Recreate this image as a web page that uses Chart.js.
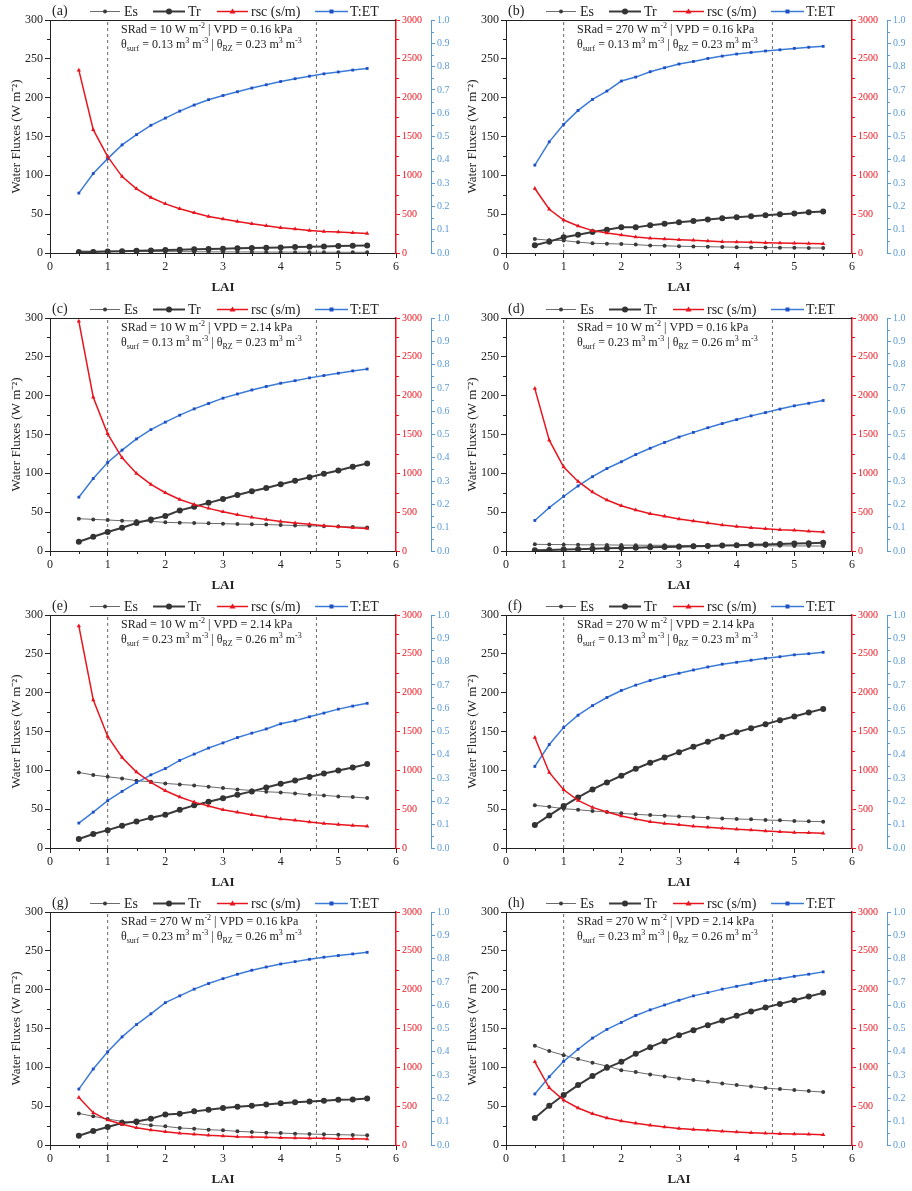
<!DOCTYPE html>
<html>
<head>
<meta charset="utf-8">
<script src="https://cdn.jsdelivr.net/npm/chart.js@4.4.0/dist/chart.umd.min.js"></script>
<style>
    body { margin: 0; background: #fff; width: 912px; height: 1191px; position: relative; overflow: hidden; }
    .panel { position: absolute; width: 456px; height: 297px; }
</style>
</head>
<body>
<div class="panel" style="left:0;top:0"><canvas id="c0" width="456" height="297"></canvas></div>
<div class="panel" style="left:456px;top:0"><canvas id="c1" width="456" height="297"></canvas></div>
<div class="panel" style="left:0;top:298px"><canvas id="c2" width="456" height="297"></canvas></div>
<div class="panel" style="left:456px;top:298px"><canvas id="c3" width="456" height="297"></canvas></div>
<div class="panel" style="left:0;top:595px"><canvas id="c4" width="456" height="297"></canvas></div>
<div class="panel" style="left:456px;top:595px"><canvas id="c5" width="456" height="297"></canvas></div>
<div class="panel" style="left:0;top:892px"><canvas id="c6" width="456" height="297"></canvas></div>
<div class="panel" style="left:456px;top:892px"><canvas id="c7" width="456" height="297"></canvas></div>

<script>
// LAI values shared by every panel
const lai = [0.5, 0.75, 1, 1.25, 1.5, 1.75, 2, 2.25, 2.5, 2.75, 3, 3.25, 3.5, 3.75, 4, 4.25, 4.5, 4.75, 5, 5.25, 5.5];
const dashedLai = [1, 4.62];

// panel conditions
const panelLabels = ['(a)', '(b)', '(c)', '(d)', '(e)', '(f)', '(g)', '(h)'];
const sradVals = ['10', '270', '10', '10', '10', '270', '270', '270'];
const vpdVals = ['0.16', '0.16', '2.14', '0.16', '2.14', '2.14', '0.16', '2.14'];
const thetaSurf = ['0.13', '0.13', '0.13', '0.23', '0.23', '0.13', '0.23', '0.23'];
const thetaRZ = ['0.23', '0.23', '0.23', '0.26', '0.26', '0.23', '0.26', '0.26'];

// (a)
const esA = [2.5, 2.4, 2.3, 2.1, 2.0, 1.9, 1.8, 1.7, 1.6, 1.5, 1.4, 1.4, 1.3, 1.2, 1.2, 1.1, 1.1, 1.0, 1.0, 0.9, 0.9];
const trA = [0.9, 1.3, 1.8, 2.3, 2.8, 3.3, 3.8, 4.2, 4.7, 5.1, 5.6, 6.0, 6.4, 6.8, 7.2, 7.7, 8.1, 8.5, 8.9, 9.3, 9.8];
const rscA = [2354, 1588, 1241, 984, 826, 715, 633, 569, 518, 471, 437, 407, 377, 351, 325, 308, 291, 278, 270, 261, 252];
const tetA = [0.257, 0.341, 0.405, 0.464, 0.508, 0.548, 0.579, 0.609, 0.635, 0.658, 0.676, 0.692, 0.708, 0.722, 0.736, 0.748, 0.759, 0.769, 0.777, 0.785, 0.792];
// (b)
const esB = [18, 16.5, 16, 14, 12.5, 12, 11.6, 10.8, 9.6, 9.3, 8.7, 8.4, 8.1, 7.8, 7.4, 7.2, 7.0, 6.8, 6.7, 6.5, 6.4];
const trB = [9.9, 14.6, 20.2, 23.6, 27, 30, 33, 33, 35.7, 37.8, 39.5, 41.3, 43, 44.7, 46, 47.3, 48.6, 49.9, 51, 52.4, 53.3];
const rscB = [830, 563, 425, 348, 288, 258, 232, 206, 189, 180, 172, 163, 155, 146, 142, 138, 133, 129, 125, 123, 120];
const tetB = [0.377, 0.477, 0.552, 0.612, 0.659, 0.695, 0.738, 0.755, 0.778, 0.795, 0.811, 0.822, 0.835, 0.845, 0.854, 0.861, 0.867, 0.872, 0.878, 0.883, 0.887];
// (c)
const esC = [41.6, 40.7, 39.9, 39.0, 38.6, 38.1, 36.9, 36.4, 36.0, 35.6, 35.2, 34.7, 34.4, 34.1, 33.4, 32.8, 32.4, 31.9, 31.5, 30.9, 30.4];
const trC = [12, 18.4, 24.4, 30, 36, 40.7, 45, 52.3, 57, 62, 66.9, 72, 77, 81, 86, 90.4, 95, 99.4, 103.7, 108.4, 112.7];
const rscC = [2957, 1980, 1509, 1200, 999, 857, 750, 664, 600, 549, 506, 467, 433, 407, 381, 360, 343, 326, 313, 300, 291];
const tetC = [0.231, 0.311, 0.380, 0.433, 0.481, 0.521, 0.553, 0.583, 0.610, 0.633, 0.656, 0.674, 0.691, 0.706, 0.720, 0.731, 0.743, 0.753, 0.763, 0.773, 0.781];
// (d)
const esD = [8.6, 8.4, 8.2, 8.0, 7.9, 7.8, 7.6, 7.5, 7.4, 7.3, 7.2, 7.1, 7.0, 6.9, 6.8, 6.8, 6.7, 6.6, 6.5, 6.5, 6.4];
const trD = [0.9, 1.4, 1.9, 2.4, 2.9, 3.4, 3.8, 4.3, 4.7, 5.2, 5.6, 6.0, 6.5, 7.0, 7.5, 8.0, 8.5, 9.0, 9.5, 10.1, 10.7];
const rscD = [2091, 1427, 1080, 896, 759, 656, 583, 527, 480, 446, 411, 386, 360, 334, 317, 300, 287, 274, 266, 253, 244];
const tetD = [0.131, 0.186, 0.234, 0.279, 0.319, 0.354, 0.383, 0.414, 0.441, 0.466, 0.489, 0.509, 0.529, 0.547, 0.564, 0.580, 0.594, 0.609, 0.623, 0.634, 0.646];
// (e)
const esE = [97.3, 93.9, 91.7, 89.6, 86.6, 85.3, 83.1, 81.9, 80.6, 78.9, 77.1, 75.4, 74.1, 72.4, 71.6, 70.3, 68.6, 67.7, 66.4, 65.6, 64.3];
const trE = [11.6, 18, 23, 28.7, 34, 39, 42.9, 49.3, 54.9, 59.6, 64, 68.6, 72.9, 78, 82.7, 87, 91.3, 96, 99.9, 103.7, 108];
const rscE = [2859, 1907, 1436, 1166, 977, 844, 737, 656, 591, 540, 493, 459, 429, 399, 373, 356, 334, 317, 304, 291, 279];
const tetE = [0.107, 0.154, 0.203, 0.243, 0.281, 0.314, 0.341, 0.376, 0.403, 0.429, 0.451, 0.474, 0.493, 0.511, 0.533, 0.546, 0.563, 0.579, 0.596, 0.609, 0.621];
// (f)
const esF = [54.9, 53.1, 50.6, 49.3, 47.6, 46.3, 44.6, 43.3, 42.4, 41.6, 40.7, 39.9, 39.0, 38.1, 37.3, 36.9, 36.0, 35.6, 34.7, 34.3, 33.9];
const trF = [29.6, 42, 54, 65.1, 75.4, 84.4, 93, 102, 109.7, 116.6, 123.4, 130.3, 136.7, 143.1, 149.1, 154.3, 159.4, 164.6, 169.3, 174.4, 179.1];
const rscF = [1423, 973, 750, 613, 523, 463, 411, 373, 339, 317, 300, 279, 266, 253, 240, 231, 219, 210, 201, 197, 189];
const tetF = [0.35, 0.444, 0.517, 0.570, 0.611, 0.646, 0.676, 0.699, 0.719, 0.736, 0.75, 0.764, 0.777, 0.789, 0.797, 0.806, 0.814, 0.821, 0.829, 0.834, 0.84];
// (g)
const esG = [40.7, 36.9, 33.4, 30.4, 27.9, 25.3, 24, 21.9, 21, 19.7, 18.9, 17.6, 16.7, 15.9, 15.4, 14.6, 14.1, 13.7, 13.3, 12.9, 12.4];
const trG = [12, 18, 23.1, 28.3, 30.4, 33.9, 39.4, 40.3, 43.3, 45.4, 47.6, 49.3, 50.6, 52.3, 53.6, 54.9, 56.1, 57, 58.3, 58.7, 60];
const rscG = [613, 416, 321, 266, 223, 193, 171, 150, 137, 124, 116, 107, 103, 99, 94, 90, 86, 86, 81, 81, 77];
const tetG = [0.24, 0.326, 0.40, 0.464, 0.517, 0.563, 0.611, 0.64, 0.669, 0.693, 0.714, 0.733, 0.75, 0.764, 0.777, 0.787, 0.797, 0.806, 0.813, 0.82, 0.827];
// (h)
const esH = [127.7, 120.9, 115.7, 110.6, 105.9, 101.6, 96.4, 93.9, 90.9, 88.3, 85.7, 83.6, 81.4, 79.3, 77.1, 75.4, 73.3, 72, 70.7, 69.4, 68.1];
const trH = [34.7, 50.6, 64.3, 77.1, 88.7, 99.4, 107.1, 117.4, 126, 133.7, 141.4, 147.9, 154.3, 160.3, 166.3, 171.9, 177, 181.7, 186.4, 191.1, 195.9];
const rscH = [1071, 737, 579, 476, 403, 347, 309, 279, 253, 231, 214, 201, 189, 176, 167, 159, 150, 146, 141, 137, 133];
const tetH = [0.219, 0.293, 0.359, 0.411, 0.459, 0.496, 0.526, 0.556, 0.58, 0.601, 0.621, 0.64, 0.654, 0.669, 0.681, 0.693, 0.706, 0.714, 0.724, 0.733, 0.743];

const esAll = [esA, esB, esC, esD, esE, esF, esG, esH];
const trAll = [trA, trB, trC, trD, trE, trF, trG, trH];
const rscAll = [rscA, rscB, rscC, rscD, rscE, rscF, rscG, rscH];
const tetAll = [tetA, tetB, tetC, tetD, tetE, tetF, tetG, tetH];

const serif = "'Liberation Serif', 'Times New Roman', serif";
const INK = '#222';
const RED = '#e8141e';
const BLUE_AXIS = '#5b9bd5';
const BLUE_LINE = '#3b7bd8';
const BLUE_PT = '#1f4fc4';

function drawRich(ctx, x, y, parts) {
    for (const [t, m] of parts) {
        const size = m === 'n' ? 12 : 8;
        ctx.font = `${size}px ${serif}`;
        const dy = m === 'sup' ? -5 : m === 'sub' ? 3 : 0;
        ctx.fillText(t, x, y + dy);
        x += ctx.measureText(t).width;
    }
}

function marker(ctx, kind, x, y, color) {
    ctx.fillStyle = color;
    ctx.beginPath();
    if (kind === 'dot') ctx.arc(x, y, 2, 0, Math.PI * 2);
    else if (kind === 'big') ctx.arc(x, y, 3, 0, Math.PI * 2);
    else if (kind === 'tri') { ctx.moveTo(x, y - 3); ctx.lineTo(x + 3, y + 2); ctx.lineTo(x - 3, y + 2); ctx.closePath(); }
    else ctx.rect(x - 2, y - 2, 4, 4);
    ctx.fill();
}

// frame, minor ticks, legend row and condition text
const panelDecor = {
    id: 'panelDecor',
    afterDraw(chart, args, opts) {
        const { ctx, chartArea: a, scales } = chart;
        ctx.save();
        ctx.lineWidth = 1;
        ctx.strokeStyle = INK;
        ctx.beginPath();
        ctx.moveTo(a.left, a.top + 0.5);
        ctx.lineTo(a.right, a.top + 0.5);
        ctx.stroke();

        // minor ticks
        const minor = (scale, start, end, step, color, draw) => {
            ctx.strokeStyle = color;
            ctx.beginPath();
            for (let v = start; v < end; v += step) draw(scale.getPixelForValue(v));
            ctx.stroke();
        };
        minor(scales.y, 25, 300, 50, INK, p => { ctx.moveTo(a.left - 3, Math.round(p) + 0.5); ctx.lineTo(a.left, Math.round(p) + 0.5); });
        minor(scales.yR, 250, 3000, 500, RED, p => { ctx.moveTo(a.right, Math.round(p) + 0.5); ctx.lineTo(a.right + 3, Math.round(p) + 0.5); });
        const bx = scales.yB.left;
        minor(scales.yB, 0.05, 1, 0.1, BLUE_AXIS, p => { ctx.moveTo(bx, Math.round(p) + 0.5); ctx.lineTo(bx + 3, Math.round(p) + 0.5); });
        minor(scales.x, 0.5, 6, 1, INK, p => { ctx.moveTo(Math.round(p) + 0.5, a.bottom); ctx.lineTo(Math.round(p) + 0.5, a.bottom + 3); });

        // legend row
        ctx.fillStyle = INK;
        ctx.textBaseline = 'alphabetic';
        ctx.font = `14px ${serif}`;
        ctx.fillText(opts.label, 52, 15);
        const items = [
            { x0: 90, x1: 120, tx: 124, text: 'Es', line: '#6b6b6b', w: 1, mk: 'dot', mc: '#3a3a3a' },
            { x0: 153, x1: 185, tx: 188, text: 'Tr', line: '#3a3a3a', w: 2, mk: 'big', mc: '#333' },
            { x0: 217, x1: 248, tx: 251, text: 'rsc (s/m)', line: RED, w: 1.5, mk: 'tri', mc: RED },
            { x0: 315, x1: 348, tx: 350, text: 'T:ET', line: BLUE_LINE, w: 1.5, mk: 'sq', mc: BLUE_PT }
        ];
        for (const it of items) {
            ctx.strokeStyle = it.line;
            ctx.lineWidth = it.w;
            ctx.beginPath();
            ctx.moveTo(it.x0, 11.5);
            ctx.lineTo(it.x1, 11.5);
            ctx.stroke();
            marker(ctx, it.mk, (it.x0 + it.x1) / 2, 11.5, it.mc);
            ctx.fillStyle = INK;
            ctx.font = `14px ${serif}`;
            ctx.fillText(it.text, it.tx, 16);
        }

        // condition text
        ctx.fillStyle = INK;
        drawRich(ctx, 121, 33, [['SRad = ' + opts.srad + ' W m', 'n'], ['-2', 'sup'], [' | VPD = ' + opts.vpd + ' kPa', 'n']]);
        drawRich(ctx, 121, 48, [
            ['\u03b8', 'n'], ['surf', 'sub'], [' = ' + opts.ts + ' m', 'n'], ['3', 'sup'], [' m', 'n'], ['-3', 'sup'],
            [' | \u03b8', 'n'], ['RZ', 'sub'], [' = ' + opts.trz + ' m', 'n'], ['3', 'sup'], [' m', 'n'], ['-3', 'sup']
        ]);
        ctx.restore();
    }
};

function pts(arr) {
    return lai.map((x, i) => ({ x: x, y: arr[i] }));
}

function makePanel(i) {
    const ctx = document.getElementById('c' + i).getContext('2d');
    const dashed = dashedLai.map(v => ({
        data: [{ x: v, y: 0 }, { x: v, y: 300 }],
        yAxisID: 'y',
        borderColor: '#666',
        borderWidth: 1,
        borderDash: [3, 3],
        pointRadius: 0
    }));

    new Chart(ctx, {
        type: 'line',
        data: {
            datasets: [
                { label: 'rsc (s/m)', data: pts(rscAll[i]), yAxisID: 'yR', borderColor: RED, borderWidth: 1.5,
                  pointStyle: 'triangle', pointRadius: 2.5, pointBackgroundColor: RED, pointBorderColor: RED, pointBorderWidth: 0 },
                { label: 'T:ET', data: pts(tetAll[i]), yAxisID: 'yB', borderColor: BLUE_LINE, borderWidth: 1.5,
                  pointStyle: 'rect', pointRadius: 2, pointBackgroundColor: BLUE_PT, pointBorderColor: BLUE_PT, pointBorderWidth: 0 },
                { label: 'Tr', data: pts(trAll[i]), yAxisID: 'y', borderColor: '#3a3a3a', borderWidth: 2,
                  pointRadius: 3, pointBackgroundColor: '#333', pointBorderColor: '#333', pointBorderWidth: 0 },
                { label: 'Es', data: pts(esAll[i]), yAxisID: 'y', borderColor: '#6b6b6b', borderWidth: 1,
                  pointRadius: 2, pointBackgroundColor: '#3a3a3a', pointBorderColor: '#3a3a3a', pointBorderWidth: 0 },
                ...dashed
            ]
        },
        options: {
            responsive: false,
            animation: false,
            events: [],
            layout: { padding: { top: 20, left: 0, right: 0, bottom: 0 } },
            plugins: {
                legend: { display: false },
                tooltip: { enabled: false },
                panelDecor: { label: panelLabels[i], srad: sradVals[i], vpd: vpdVals[i], ts: thetaSurf[i], trz: thetaRZ[i] }
            },
            scales: {
                x: {
                    type: 'linear', min: 0, max: 6,
                    ticks: { stepSize: 1, color: INK, font: { family: serif, size: 12 }, padding: 2, maxRotation: 0 },
                    grid: { drawOnChartArea: false, drawTicks: true, tickLength: 5, color: INK },
                    border: { color: INK, width: 1 },
                    title: { display: true, text: 'LAI', color: INK, font: { family: serif, size: 13, weight: 'bold' }, padding: { top: 0, bottom: 2 } },
                    afterFit: s => { s.height = 44; }
                },
                y: {
                    position: 'left', min: 0, max: 300,
                    ticks: { stepSize: 50, color: INK, font: { family: serif, size: 12 }, padding: 2 },
                    grid: { drawOnChartArea: false, drawTicks: true, tickLength: 5, color: INK },
                    border: { color: INK, width: 1 },
                    title: { display: true, text: 'Water Fluxes (W m\u207b\u00b2)', color: INK, font: { family: serif, size: 13 }, padding: { top: 9, bottom: 0 } },
                    afterFit: s => { s.width = 50; }
                },
                yR: {
                    position: 'right', weight: 0, min: 0, max: 3000,
                    ticks: { stepSize: 500, color: RED, font: { family: serif, size: 10 }, padding: 2, callback: v => String(v) },
                    grid: { drawOnChartArea: false, drawTicks: true, tickLength: 4, color: RED },
                    border: { color: RED, width: 1.5 },
                    afterFit: s => { s.width = 35; }
                },
                yB: {
                    position: 'right', weight: 1, min: 0, max: 1,
                    ticks: { stepSize: 0.1, color: BLUE_AXIS, font: { family: serif, size: 10 }, padding: 2, callback: v => v.toFixed(1) },
                    grid: { drawOnChartArea: false, drawTicks: true, tickLength: 4, color: BLUE_AXIS },
                    border: { color: BLUE_AXIS, width: 1 },
                    afterFit: s => { s.width = 25; }
                }
            }
        },
        plugins: [panelDecor]
    });
}

for (let i = 0; i < 8; i++) makePanel(i);
</script>
</body>
</html>
